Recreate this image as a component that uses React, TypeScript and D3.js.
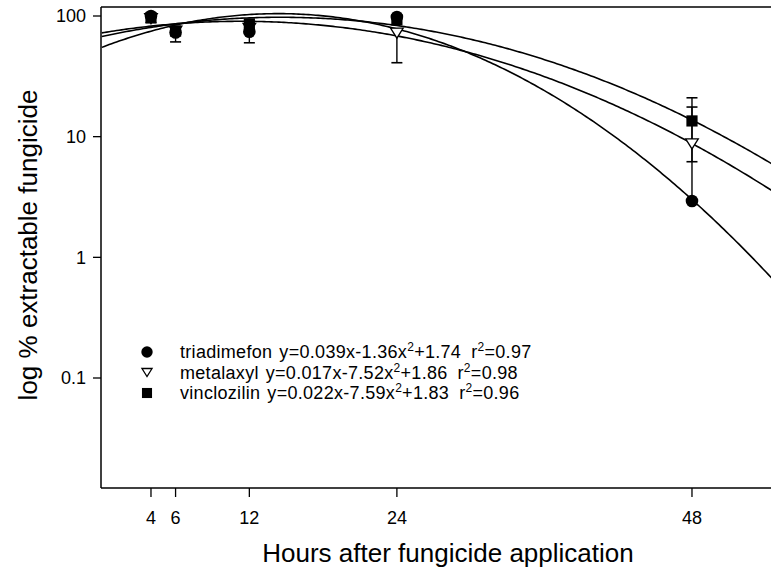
import React from "react";
import * as d3 from "d3";

// ---- data ----
const hours = [4, 6, 12, 24, 48];
const triadimefon = [100, 73, 74, 98, 2.93];
const triadimefonLo: (number | null)[] = [88, 61, 60, null, null];
const triadimefonHi: (number | null)[] = [null, null, null, null, null];
const metalaxyl = [95, 75, 79, 72, 8.7];
const metalaxylLo: (number | null)[] = [null, null, null, 41, 3.0];
const metalaxylHi: (number | null)[] = [null, null, null, null, 17.6];
const vinclozilin = [97, 75, 86, 93, 13.5];
const vinclozilinLo: (number | null)[] = [null, null, null, null, 6.2];
const vinclozilinHi: (number | null)[] = [null, null, null, null, 21];
// fitted log10(y) = a + b x + c x^2 (from the legend)
const fitA = [1.74, 1.86, 1.83];
const fitB = [0.039, 0.017, 0.022];
const fitC = [-1.36e-3, -7.52e-4, -7.59e-4];
const seriesNames = ["triadimefon", "metalaxyl", "vinclozilin"];
const eqLinear = ["y=0.039x-1.36x", "y=0.017x-7.52x", "y=0.022x-7.59x"];
const eqConst = ["+1.74", "+1.86", "+1.83"];
const rSquared = ["0.97", "0.98", "0.96"];
const xTicks = [4, 6, 12, 24, 48];
const yTicks = [0.1, 1, 10, 100];

const W = 771;
const H = 579;
const left = 101;
const right = 771;
const top = 7;
const bottom = 488;

export default function App() {
  const x = d3.scaleLinear().domain([0, 44]).range([101.8, 101.8 + 541]);
  const y = d3.scaleLog().domain([0.1, 100]).range([378, 16]);
  const xMax = x.invert(right);

  const values = [triadimefon, metalaxyl, vinclozilin];
  const los = [triadimefonLo, metalaxylLo, vinclozilinLo];
  const his = [triadimefonHi, metalaxylHi, vinclozilinHi];

  const curvePaths = fitA.map((a, k) => {
    const pts: [number, number][] = d3.range(0, xMax + 0.2, 0.2).map((t) => {
      const lv = a + fitB[k] * t + fitC[k] * t * t;
      return [x(t), y(Math.pow(10, lv))];
    });
    return d3.line()(pts) as string;
  });

  const font = "Arial, 'Liberation Sans', Helvetica, sans-serif";

  const marker = (k: number, cx: number, cy: number, key: string, size = 1) => {
    if (k === 0) return <circle key={key} cx={cx} cy={cy} r={6.3 * size} fill="#000" />;
    if (k === 1) {
      const w = 6.3 * size;
      const h = 10 * size;
      return (
        <path
          key={key}
          d={`M${cx - w},${cy - h / 2}L${cx + w},${cy - h / 2}L${cx},${cy + h / 2}Z`}
          fill="#fff"
          stroke="#000"
          strokeWidth={1.3}
        />
      );
    }
    const s = 5.6 * size;
    return <rect key={key} x={cx - s} y={cy - s} width={2 * s} height={2 * s} fill="#000" />;
  };

  return (
    <svg
      width={W}
      height={H}
      style={{ position: "absolute", left: 0, top: 0, background: "#fff" }}
      fontFamily={font}
    >
      <defs>
        <clipPath id="plot">
          <rect x={left} y={top} width={right - left} height={bottom - top} />
        </clipPath>
      </defs>
      <rect x={0} y={0} width={W} height={H} fill="#fff" />

      {/* curves */}
      <g clipPath="url(#plot)">
        {curvePaths.map((d, k) => (
          <path key={k} d={d} fill="none" stroke="#000" strokeWidth={1.6} />
        ))}
      </g>

      {/* error bars */}
      {values.map((vals, k) =>
        vals.map((v, i) => {
          const cx = x(hours[i]);
          const lo = los[k][i];
          const hi = his[k][i];
          const parts: React.ReactNode[] = [];
          if (lo != null) {
            parts.push(
              <line key={`l${k}${i}`} x1={cx} x2={cx} y1={y(v)} y2={y(lo)} stroke="#000" strokeWidth={1.4} />,
              <line key={`lc${k}${i}`} x1={cx - 5.5} x2={cx + 5.5} y1={y(lo)} y2={y(lo)} stroke="#000" strokeWidth={1.6} />
            );
          }
          if (hi != null) {
            parts.push(
              <line key={`h${k}${i}`} x1={cx} x2={cx} y1={y(v)} y2={y(hi)} stroke="#000" strokeWidth={1.4} />,
              <line key={`hc${k}${i}`} x1={cx - 5.5} x2={cx + 5.5} y1={y(hi)} y2={y(hi)} stroke="#000" strokeWidth={1.6} />
            );
          }
          return <g key={`e${k}${i}`}>{parts}</g>;
        })
      )}

      {/* markers */}
      {[1, 2, 0].map((k) =>
        values[k].map((v, i) => marker(k, x(hours[i]), y(v), `m${k}${i}`))
      )}

      {/* axes */}
      <line x1={left} x2={right} y1={top} y2={top} stroke="#000" strokeWidth={1.5} />
      <line x1={left} x2={left} y1={top} y2={bottom} stroke="#000" strokeWidth={1.5} />
      <line x1={left} x2={right} y1={bottom} y2={bottom} stroke="#000" strokeWidth={1.5} />

      {yTicks.map((t) => (
        <g key={`yt${t}`}>
          <line x1={left - 8} x2={left} y1={y(t)} y2={y(t)} stroke="#000" strokeWidth={1.3} />
          <text x={left - 15} y={y(t)} dy="0.35em" textAnchor="end" fontSize={18}>
            {t}
          </text>
        </g>
      ))}
      {xTicks.map((t) => (
        <g key={`xt${t}`}>
          <line x1={x(t)} x2={x(t)} y1={bottom} y2={bottom + 9} stroke="#000" strokeWidth={1.3} />
          <text x={x(t)} y={518} dy="0.35em" textAnchor="middle" fontSize={18}>
            {t}
          </text>
        </g>
      ))}

      <text x={448} y={553} dy="0.35em" textAnchor="middle" fontSize={26}>
        Hours after fungicide application
      </text>
      <text
        transform={`translate(28,${245}) rotate(-90)`}
        dy="0.35em"
        textAnchor="middle"
        fontSize={26}
      >
        log % extractable fungicide
      </text>

      {/* legend */}
      {seriesNames.map((name, j) => {
        const ly = 352 + j * 20.5;
        return (
          <g key={`lg${j}`}>
            {marker(j, 147, ly, `lm${j}`, j === 1 ? 0.8 : 0.9)}
            <text x={180} y={ly} dy="0.35em" fontSize={18} letterSpacing={0.3}>
              {name}
              <tspan dx={7}>{eqLinear[j]}</tspan>
              <tspan dy={-7} fontSize={12}>2</tspan>
              <tspan dy={7}>{eqConst[j]}</tspan>
              <tspan dx={10}>r</tspan>
              <tspan dy={-7} fontSize={12}>2</tspan>
              <tspan dy={7}>={rSquared[j]}</tspan>
            </text>
          </g>
        );
      })}
    </svg>
  );
}
